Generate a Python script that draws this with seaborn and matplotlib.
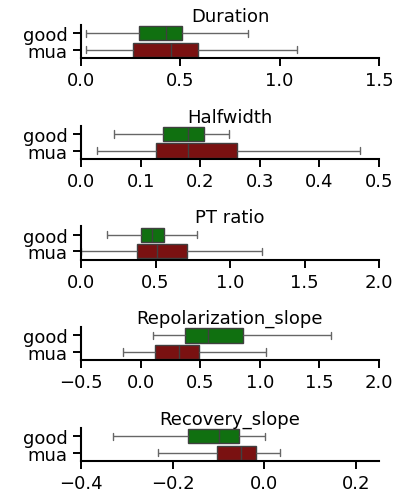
import numpy as np
import pandas as pd
import matplotlib
matplotlib.use("Agg")
import matplotlib.pyplot as plt
import seaborn as sns

# Categories and metrics
groups = ["good", "mua"]
metrics = ["Duration", "Halfwidth", "PT ratio", "Repolarization_slope", "Recovery_slope"]

# Box summaries per group: [whisker low, Q1, median, Q3, whisker high]
duration_good = [0.025, 0.29, 0.43, 0.51, 0.84]
duration_mua = [0.025, 0.26, 0.455, 0.59, 1.085]
halfwidth_good = [0.056, 0.137, 0.179, 0.206, 0.248]
halfwidth_mua = [0.027, 0.125, 0.179, 0.262, 0.468]
ptratio_good = [0.177, 0.403, 0.477, 0.555, 0.779]
ptratio_mua = [0.0, 0.376, 0.512, 0.714, 1.217]
repol_good = [0.101, 0.373, 0.569, 0.857, 1.599]
repol_mua = [-0.146, 0.123, 0.322, 0.493, 1.048]
recov_good = [-0.331, -0.166, -0.100, -0.055, 0.002]
recov_mua = [-0.233, -0.104, -0.052, -0.019, 0.035]

# Axis ranges and ticks
xlims = [(0, 1.5), (0, 0.5), (0, 2.0), (-0.5, 2.0), (-0.4, 0.25)]
xticks = [
    [0.0, 0.5, 1.0, 1.5],
    [0.0, 0.1, 0.2, 0.3, 0.4, 0.5],
    [0.0, 0.5, 1.0, 1.5, 2.0],
    [-0.5, 0.0, 0.5, 1.0, 1.5, 2.0],
    [-0.4, -0.2, 0.0, 0.2],
]

series = {
    "Duration": (duration_good, duration_mua),
    "Halfwidth": (halfwidth_good, halfwidth_mua),
    "PT ratio": (ptratio_good, ptratio_mua),
    "Repolarization_slope": (repol_good, repol_mua),
    "Recovery_slope": (recov_good, recov_mua),
}

rows = []
for m in metrics:
    for g, vals in zip(groups, series[m]):
        for v in vals:
            rows.append({"metric": m, "unit": g, "value": v})
df = pd.DataFrame(rows)

sns.set_style("ticks")
plt.rcParams["font.family"] = ["DejaVu Sans"]
plt.rcParams["text.color"] = "black"
plt.rcParams["axes.labelcolor"] = "black"
plt.rcParams["xtick.color"] = "black"
plt.rcParams["ytick.color"] = "black"
plt.rcParams["axes.edgecolor"] = "black"

palette = {"good": "green", "mua": "darkred"}

fig, axes = plt.subplots(5, 1, figsize=(3.95, 5.02), dpi=100)
fig.subplots_adjust(left=81 / 395, right=379 / 395, top=1 - 26 / 502,
                    bottom=1 - 462 / 502, hspace=2.05)

for ax, m, xl, xt in zip(axes, metrics, xlims, xticks):
    sub = df[df["metric"] == m]
    sns.boxplot(data=sub, x="value", y="unit", hue="unit", order=groups,
                hue_order=groups, palette=palette, whis=(0, 100),
                width=0.85, showfliers=False, linewidth=1, linecolor="0.25",
                whiskerprops={"color": "0.4"}, capprops={"color": "0.4"},
                legend=False, ax=ax)
    ax.set_xlim(*xl)
    ax.set_xticks(xt)
    ax.set_xticklabels([f"{t:.1f}".replace("-", "\u2212") for t in xt])
    ax.set_ylim(1.5, -0.5)
    ax.set_title(m, fontsize=13, pad=3)
    ax.set_xlabel("")
    ax.set_ylabel("")
    ax.tick_params(axis="both", labelsize=13, length=6, width=1.4)
    for s in ["left", "bottom"]:
        ax.spines[s].set_linewidth(1.5)
    sns.despine(ax=ax)

fig.savefig("out.png", dpi=100)
